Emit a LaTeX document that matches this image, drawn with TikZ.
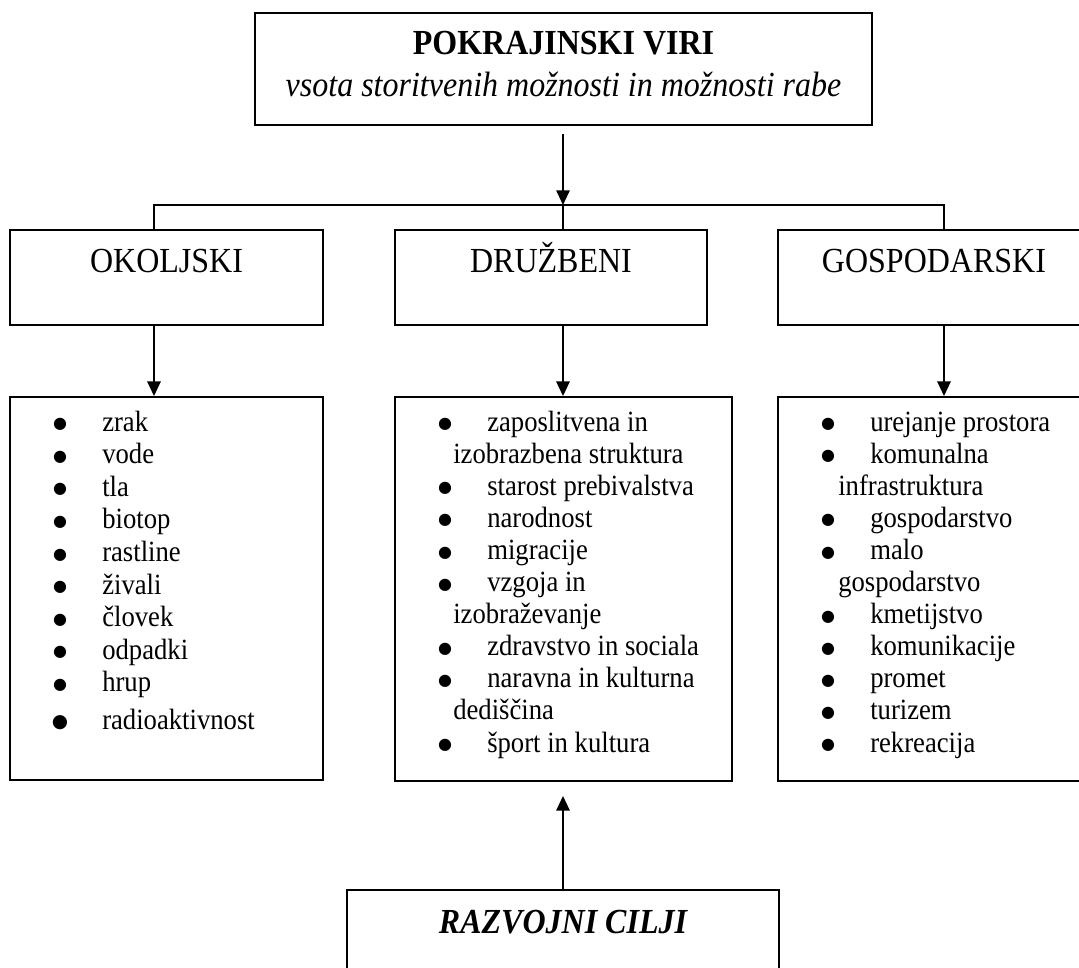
\documentclass[tikz,border=0pt]{standalone}
\usepackage{graphicx}
\usepackage{fontspec}
\setmainfont{Liberation Serif}
\newfontfamily\dejavu{DejaVu Sans}
\usetikzlibrary{arrows.meta,fit}
\newcommand\vst[1]{\scalebox{1}[1.1]{#1}}
\begin{document}
\begin{tikzpicture}[x=0.75pt,y=-0.75pt,
  boxed/.style={draw, line width=1.4pt, inner sep=0pt},
  arr/.style={line width=1.4pt, -{Triangle[width=10pt,length=11pt]}},
  conn/.style={line width=1.4pt},
  head/.style={font=\fontsize{24}{28}\selectfont, anchor=base, inner sep=0pt},
  item/.style={font=\fontsize{20}{24}\selectfont, anchor=base west, inner sep=0pt},
  bul/.style={font=\dejavu\fontsize{12}{12}\selectfont, anchor=center, inner sep=0pt}]

\useasboundingbox[fill=white] (0,0) rectangle (1079,968);

% boxes
\node[boxed, fit={(255,13) (872,125)}] (top) {};
\node[boxed, fit={(10,230) (323,325)}] (okh) {};
\node[boxed, fit={(395,230) (707,325)}] (drh) {};
\node[boxed, fit={(778,230) (1092,325)}] (gsh) {};
\node[boxed, fit={(10,397) (323,780)}] (okl) {};
\node[boxed, fit={(395,397) (732,781)}] (drl) {};
\node[boxed, fit={(778,397) (1092,781)}] (gsl) {};
\node[boxed, fit={(347,890) (779,1000)}] (rc) {};

% texts
\node[head, font=\fontsize{24}{28}\selectfont\bfseries] (toptitle) at (563.5,54) {\vst{POKRAJINSKI VIRI}};
\node[head, font=\fontsize{24}{28}\selectfont\itshape] (topsub) at (563.5,96) {\vst{vsota storitvenih možnosti in možnosti rabe}};
\node[head] (okt) at (166.5,272) {\vst{OKOLJSKI}};
\node[head] (drt) at (551,272) {\vst{DRUŽBENI}};
\node[head] (gst) at (934,272) {\vst{GOSPODARSKI}};
\node[head, font=\fontsize{24}{28}\selectfont\bfseries\itshape] (rct) at (563,933) {\vst{RAZVOJNI CILJI}};

% lists
\foreach \t [count=\i] in {zrak,vode,tla,biotop,rastline,živali,človek,odpadki,hrup}{
  \node[bul] (okb\i) at (60,{431+32.6*(\i-1)-6.5}) {●};
  \node[item] (ok\i) at (102,{431+32.6*(\i-1)}) {\vst{\t}};
}
\node[bul, font=\dejavu\fontsize{14}{14}\selectfont] (okb10) at (60,722.5) {●};
\node[item] (ok10) at (102,729) {\vst{radioaktivnost}};

\foreach \b/\t [count=\i] in {1/zaposlitvena in,0/izobrazbena struktura,1/starost prebivalstva,1/narodnost,1/migracije,1/vzgoja in,0/izobraževanje,1/zdravstvo in sociala,1/naravna in kulturna,0/dediščina,1/šport in kultura}{
  \ifnum\b=1 \node[bul] (drb\i) at (445,{431+32.1*(\i-1)-6.5}) {●};\fi
  \node[item] (dr\i) at ({ifthenelse(\b==1,487,453)},{431+32.1*(\i-1)}) {\vst{\t}};
}

\foreach \b/\t [count=\i] in {1/urejanje prostora,1/komunalna,0/infrastruktura,1/gospodarstvo,1/malo,0/gospodarstvo,1/kmetijstvo,1/komunikacije,1/promet,1/turizem,1/rekreacija}{
  \ifnum\b=1 \node[bul] (gsb\i) at (828,{431+32.1*(\i-1)-6.5}) {●};\fi
  \node[item] (gs\i) at ({ifthenelse(\b==1,870,838)},{431+32.1*(\i-1)}) {\vst{\t}};
}

% connectors
\coordinate (bar) at (563,205);
\coordinate (barL) at (154,205);
\coordinate (barR) at (944,205);
\draw[arr, shorten <=6pt] (top.south -| bar) -- (bar);
\draw[conn] (barL |- okh.north) -- (barL) -- (barR) -- (barR |- gsh.north);
\draw[conn] (bar) -- (bar |- drh.north);
\draw[arr] (barL |- okh.south) -- (barL |- okl.north);
\draw[arr] (bar |- drh.south) -- (bar |- drl.north);
\draw[arr] (barR |- gsh.south) -- (barR |- gsl.north);
\draw[arr, shorten >=10.5pt] (rc.north -| bar) -- (bar |- drl.south);
\end{tikzpicture}
\end{document}
